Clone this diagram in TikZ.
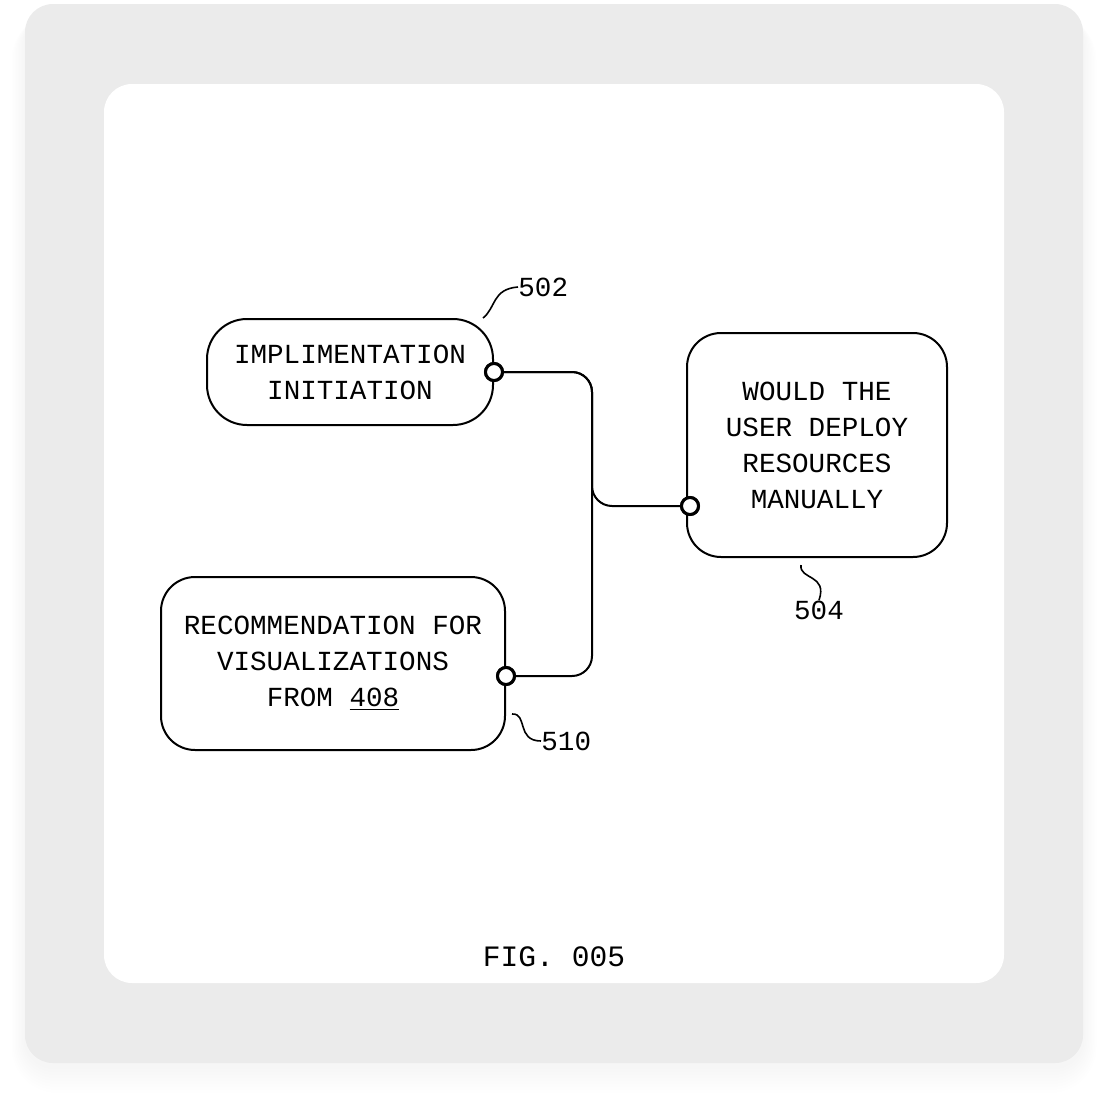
\documentclass[tikz,border=0pt]{standalone}
\usepackage{fontspec}
\setmonofont{Liberation Mono}
\usetikzlibrary{positioning}
\newcommand{\boxfont}{\ttfamily\fontsize{13.8}{18}\selectfont}
\definecolor{framegray}{HTML}{EBEBEB}
\tikzset{
	box/.style={draw,line width=1pt,rounded corners=17pt,align=center,font=\boxfont,inner sep=0pt},
	port/.style={circle,draw,fill=white,line width=1.5pt,inner sep=0pt,minimum size=8.5pt},
	wire/.style={line width=1pt,rounded corners=10pt},
	tag/.style={font=\boxfont,inner sep=0pt},
	lead/.style={line width=0.8pt},
}
\begin{document}
\begin{tikzpicture}[x=0.5pt,y=-0.5pt]
	\useasboundingbox (0,0) rectangle (1108,1108);
	% soft shadow and frame
	\foreach \i in {1,...,9}
		\fill[black,opacity=0.0035,rounded corners=14pt+\i pt]
		(25-1.5*\i,14) rectangle (1083+1.5*\i,1066+3*\i);
	\fill[framegray,rounded corners=14pt] (25,4) rectangle (1083,1063);
	\fill[white,rounded corners=14pt] (104,84) rectangle (1004,983);
	% boxes
	\node[box,rounded corners=20pt,minimum width=143pt,minimum height=53pt]
		(impl) at (350,372) {IMPLIMENTATION\\INITIATION};
	\node[box,minimum width=130pt,minimum height=112pt]
		(deploy) at (817,445) {WOULD THE\\USER DEPLOY\\RESOURCES\\MANUALLY};
	\node[box,minimum width=172pt,minimum height=86.5pt]
		(recom) at (333,663.5) {RECOMMENDATION FOR\\VISUALIZATIONS\\FROM \underline{408}};
	% connectors
	\coordinate (bus) at (592,506);
	\node[port] (pimpl) at (494,372) {};
	\node[port] (pdeploy) at (690,506) {};
	\node[port] (precom) at (506,676) {};
	\draw[wire] (pimpl) -| (bus) -- (pdeploy);
	\draw[wire] (precom) -| (bus) |- (pimpl);
	\node[port] at (pimpl) {};
	\node[port] at (pdeploy) {};
	\node[port] at (precom) {};
	% reference numerals
	\node[tag,anchor=west] (t502) at (518,287) {502};
	\coordinate (l502) at (483,318);
	\draw[lead] (l502) .. controls (496,308) and (492,289) .. (t502.west);
	\node[tag] (t504) at (819,610) {504};
	\coordinate (l504) at (801,565);
	\draw[lead] (l504) .. controls (799,580) and (828,574) .. (t504.north);
	\node[tag,anchor=west] (t510) at (541,741) {510};
	\coordinate (l510) at (512,714);
	\draw[lead] (l510) .. controls (528,713) and (516,741) .. (t510.west);
	\node[font=\ttfamily\fontsize{14.8}{18}\selectfont] (fig) at (554,957) {FIG. 005};
\end{tikzpicture}
\end{document}
